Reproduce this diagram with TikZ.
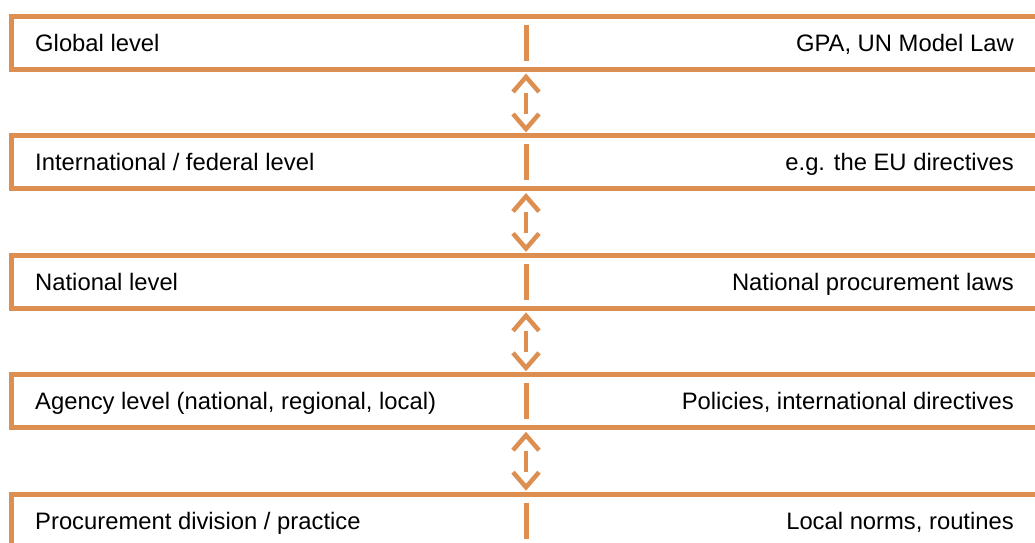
\documentclass[tikz,border=0pt]{standalone}
\usepackage{fontspec}
\setmainfont{Liberation Sans}
\definecolor{acc}{RGB}{220,143,80}
\begin{document}
\begin{tikzpicture}[x=1pt,y=-1pt,
  frame/.style={draw=acc,line width=5pt,line join=miter},
  sep/.style={draw=acc,line width=5pt},
  chev/.style={draw=acc,line width=4.5pt,line join=miter},
  lbl/.style={font=\fontsize{23.8pt}{26pt}\selectfont,inner sep=0pt}]
\useasboundingbox (0,0) rectangle (1035,542);
\clip (0,0) rectangle (1035,542);
\foreach \i/\l/\r in {0/{Global level}/{GPA, UN Model Law},
                      1/{International / federal level}/{e.g. the EU directives},
                      2/{National level}/{National procurement laws},
                      3/{Agency level (national, regional, local)}/{Policies, international directives},
                      4/{Procurement division / practice}/{Local norms, routines}}{
  \pgfmathsetmacro{\t}{16.5+119.4*\i}
  \pgfmathsetmacro{\b}{\t+53}
  \coordinate (tr\i) at (1040,\t);
  \coordinate (tl\i) at (11.5,\t);
  \coordinate (bl\i) at (11.5,\b);
  \coordinate (br\i) at (1040,\b);
  \path[frame] (tr\i) -- (tl\i) -- (bl\i) -- (br\i);
  \coordinate (mt\i) at (526,\t+8.5);
  \coordinate (mb\i) at (526,\b-8.5);
  \path[sep] (mt\i) -- (mb\i);
  \node[lbl,anchor=base west] (L\i) at (35,\t+34.9) {\l};
  \node[lbl,anchor=base east] (R\i) at (1014,\t+34.9) {\r};
}
\foreach \i in {0,1,2,3}{
  \pgfmathsetmacro{\a}{16.5+119.4*\i+53+7.5}
  \coordinate (ua\i) at (526,\a);
  \coordinate (ul\i) at (513,\a+15);
  \coordinate (ur\i) at (539,\a+15);
  \coordinate (s1\i) at (526,\a+15.5);
  \coordinate (s2\i) at (526,\a+36.5);
  \coordinate (da\i) at (526,\a+52);
  \coordinate (dl\i) at (513,\a+37);
  \coordinate (dr\i) at (539,\a+37);
  \path[chev] (ul\i) -- (ua\i) -- (ur\i);
  \path[sep,line width=4.5pt] (s1\i) -- (s2\i);
  \path[chev] (dl\i) -- (da\i) -- (dr\i);
}
\end{tikzpicture}
\end{document}
